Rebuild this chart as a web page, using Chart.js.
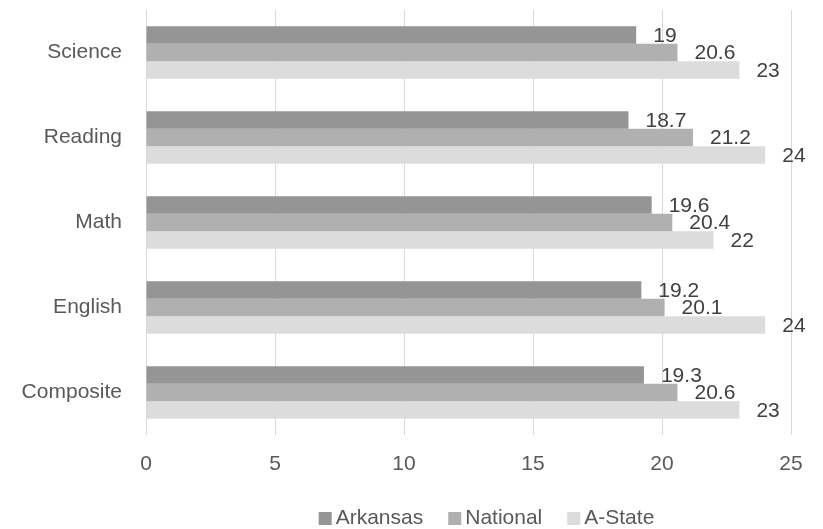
<!DOCTYPE html>
<html>
<head>
<meta charset="utf-8">
<script src="https://cdn.jsdelivr.net/npm/chart.js@4/dist/chart.umd.min.js"></script>
<style>
  html, body { margin: 0; padding: 0; background: #ffffff; }
  #wrap { width: 823px; height: 529px; }
</style>
</head>
<body>
<div id="wrap"><canvas id="c" width="823" height="529"></canvas></div>
<script>
const categories = ['Science', 'Reading', 'Math', 'English', 'Composite'];
const seriesNames = ['Arkansas', 'National', 'A-State'];
const arkansas = [19, 18.7, 19.6, 19.2, 19.3];
const national = [20.6, 21.2, 20.4, 20.1, 20.6];
const aState = [23, 24, 22, 24, 23];
const xTicks = [0, 5, 10, 15, 20, 25];

const colors = ['#959595', '#b0b0b0', '#dcdcdc'];
const FONT = '"Liberation Sans", Arial, sans-serif';

const dataLabels = {
  id: 'dataLabels',
  afterDatasetsDraw(chart) {
    const ctx = chart.ctx;
    ctx.save();
    ctx.font = '21px ' + FONT;
    ctx.fillStyle = '#404040';
    ctx.textAlign = 'left';
    ctx.textBaseline = 'middle';
    chart.data.datasets.forEach((ds, di) => {
      const meta = chart.getDatasetMeta(di);
      meta.data.forEach((bar, i) => {
        ctx.fillText(String(ds.data[i]), bar.x + 17, bar.y + 1);
      });
    });
    ctx.restore();
  }
};

const customLegend = {
  id: 'customLegend',
  afterDraw(chart) {
    const ctx = chart.ctx;
    const ca = chart.chartArea;
    ctx.save();
    ctx.font = '21px ' + FONT;
    ctx.textBaseline = 'middle';
    ctx.textAlign = 'left';
    const box = 13, gapBox = 4, gapItem = 25;
    const items = chart.data.datasets.map(d => ({ label: d.label, color: d.backgroundColor, w: ctx.measureText(d.label).width }));
    let total = 0;
    items.forEach((it, i) => { total += box + gapBox + it.w + (i < items.length - 1 ? gapItem : 0); });
    const center = (ca.left + ca.right) / 2 + 18;
    let x = center - total / 2;
    const y = 518;
    items.forEach(it => {
      ctx.fillStyle = it.color;
      ctx.fillRect(x, y - 6, box, box);
      x += box + gapBox;
      ctx.fillStyle = '#595959';
      ctx.fillText(it.label, x, y);
      x += it.w + gapItem;
    });
    ctx.restore();
  }
};

new Chart(document.getElementById('c'), {
  type: 'bar',
  data: {
    labels: categories,
    datasets: [
      { label: seriesNames[0], data: arkansas, backgroundColor: colors[0] },
      { label: seriesNames[1], data: national, backgroundColor: colors[1] },
      { label: seriesNames[2], data: aState, backgroundColor: colors[2] }
    ]
  },
  options: {
    indexAxis: 'y',
    responsive: false,
    animation: false,
    devicePixelRatio: 1,
    categoryPercentage: 0.62,
    barPercentage: 1.0,
    layout: { padding: { top: 10, right: 32, left: 0, bottom: 44 } },
    plugins: {
      legend: { display: false },
      tooltip: { enabled: false }
    },
    scales: {
      x: {
        min: 0,
        max: 25,
        afterBuildTicks(scale) { scale.ticks = xTicks.map(v => ({ value: v })); },
        afterFit(scale) { scale.height = 50; scale.paddingLeft = 0; scale.paddingRight = 0; },
        grid: { color: '#d9d9d9', lineWidth: 1, drawTicks: false },
        border: { display: false },
        ticks: { color: '#595959', font: { family: FONT, size: 21 }, padding: 17 }
      },
      y: {
        afterFit(scale) { scale.width = 146; scale.paddingTop = 0; scale.paddingBottom = 0; },
        grid: { display: false, drawTicks: false },
        border: { display: false },
        ticks: { color: '#595959', font: { family: FONT, size: 21 }, padding: 24 }
      }
    }
  },
  plugins: [dataLabels, customLegend]
});
</script>
</body>
</html>
